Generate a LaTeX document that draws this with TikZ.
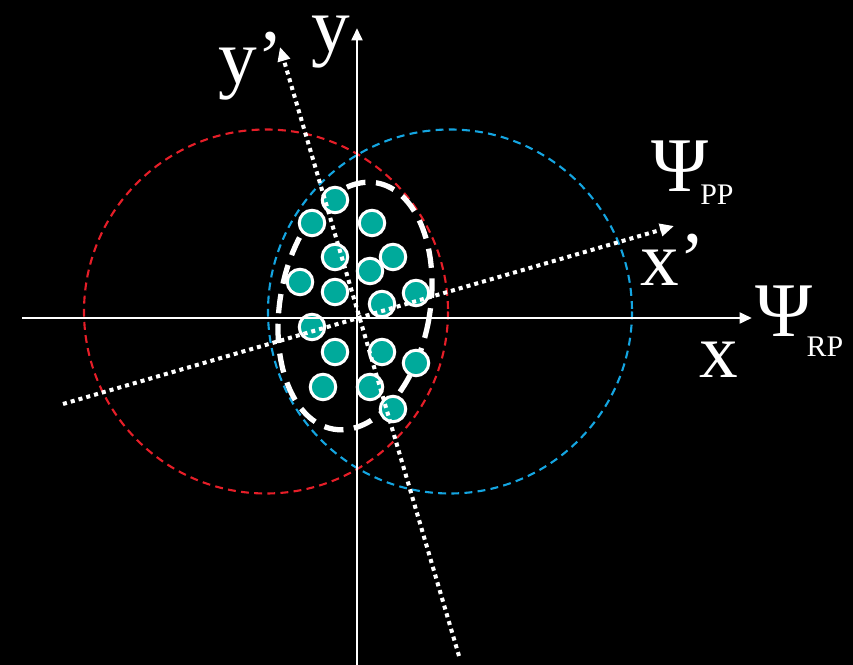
\documentclass[tikz,border=0pt]{standalone}
\usepackage{fontspec}
\setmainfont{Liberation Serif}
\usetikzlibrary{arrows.meta}
\definecolor{redc}{RGB}{230,30,40}
\definecolor{bluec}{RGB}{20,165,225}
\definecolor{tealc}{RGB}{0,170,155}
\begin{document}
\begin{tikzpicture}[x=0.02cm,y=-0.02cm,
  axis/.style={white,line width=1.7pt,-{Triangle[length=7pt,width=6pt]}},
  dotaxis/.style={white,line width=2.3pt,dash pattern=on 2.3pt off 2.3pt,-{Triangle[length=8pt,width=7pt]}},
  redcirc/.style={redc,line width=1.2pt,dash pattern=on 4.5pt off 3pt},
  bluecirc/.style={bluec,line width=1.2pt,dash pattern=on 4.5pt off 3pt},
  bigdash/.style={white,line width=3pt,dash pattern=on 11pt off 6pt},
  particle/.style={circle,fill=tealc,draw=white,line width=1.7pt,minimum size=14.5pt,inner sep=0pt},
  lbl/.style={white,font=\fontsize{44}{44}\selectfont,inner sep=0pt},
  sub/.style={white,font=\fontsize{17}{17}\selectfont,inner sep=0pt}]
\fill[black] (0,0) rectangle (853,665);
\useasboundingbox (0,0) rectangle (853,665);
% circles
\draw[redcirc] (266,311.5) circle [radius=182];
\draw[bluecirc] (450,311.5) circle [radius=182];
% white dashed ellipse
\draw[bigdash,rotate around={-10:(355,306)}] (355,306) ellipse [x radius=75, y radius=125];
% particles
\foreach \i/\px/\py in {1/335/200,2/312/223,3/372/223,4/335/257,5/393/257,6/370/271,7/300/282,8/335/292,9/416/293,10/382/304,11/312/327,12/335/352,13/382/352,14/416/363,15/323/387,16/370/387,17/393/409}
  \node[particle] (p\i) at (\px,\py) {};
% coordinates
\coordinate (xs) at (22,318);
\coordinate (xe) at (752,318);
\coordinate (ys) at (357,665);
\coordinate (ye) at (357,28);
\coordinate (xps) at (63,404);
\coordinate (xpe) at (674,226);
\coordinate (yps) at (459,656);
\coordinate (ype) at (280,47);
% dotted rotated axes
\draw[dotaxis] (xps) -- (xpe);
\draw[dotaxis] (yps) -- (ype);
% axes
\draw[axis] (xs) -- (xe);
\draw[axis] (ys) -- (ye);
% labels
\node[lbl] (ly) at (331,42) {y};
\node[lbl] (lyp) at (251,66) {y’};
\node[lbl] (lxp) at (673,260) {x’};
\node[lbl] (lx) at (719,360) {x};
\node[lbl] (psipp) at (680,166) {Ψ};
\node[sub] (pp) at (717,195) {PP};
\node[lbl] (psirp) at (784,311) {Ψ};
\node[sub] (rp) at (825,347) {RP};
\end{tikzpicture}
\end{document}
